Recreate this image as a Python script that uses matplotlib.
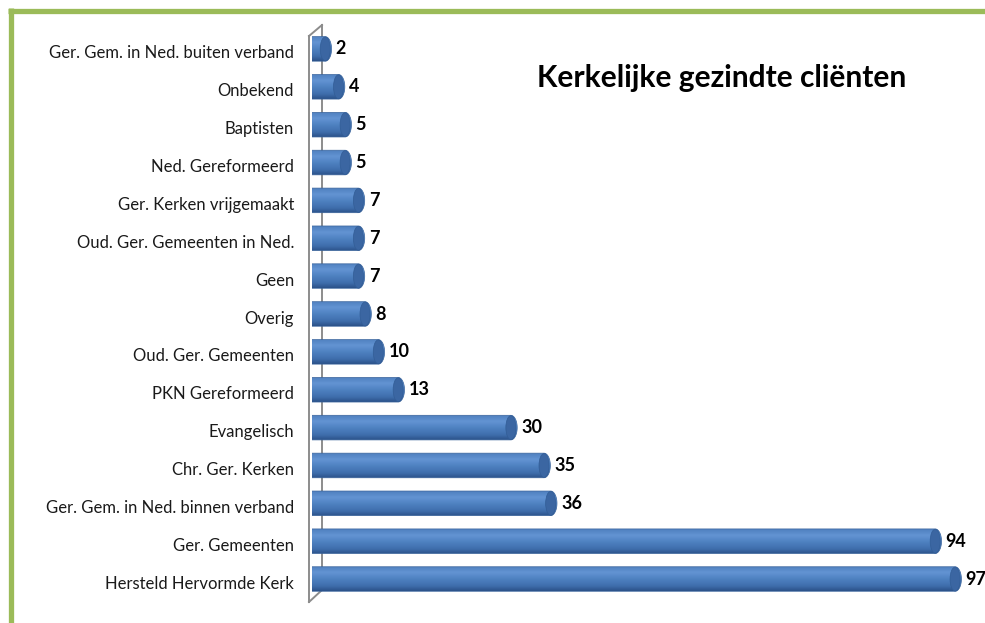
import matplotlib
matplotlib.use("Agg")
import matplotlib.pyplot as plt
import numpy as np
from matplotlib.path import Path
from matplotlib.patches import PathPatch, Ellipse
from matplotlib.lines import Line2D
from matplotlib.colors import LinearSegmentedColormap

categories = ["Hersteld Hervormde Kerk", "Ger. Gemeenten", "Ger. Gem. in Ned. binnen verband",
              "Chr. Ger. Kerken", "Evangelisch", "PKN Gereformeerd", "Oud. Ger. Gemeenten",
              "Overig", "Geen", "Oud. Ger. Gemeenten in Ned.", "Ger. Kerken vrijgemaakt",
              "Ned. Gereformeerd", "Baptisten", "Onbekend", "Ger. Gem. in Ned. buiten verband"]
values = [97, 94, 36, 35, 30, 13, 10, 8, 7, 7, 7, 5, 5, 4, 2]
title = "Kerkelijke gezindte cliënten"

W, H = 985, 623
fig = plt.figure(figsize=(W/100, H/100), dpi=100)
fig.patch.set_facecolor("white")

ax = fig.add_axes([312/W, (H-598)/H, (975-312)/W, (598-30)/H])
ax.set_xlim(0, 100)
ax.set_ylim(-0.5, 14.5)
ax.axis("off")

cmap = LinearSegmentedColormap.from_list("cyl", [
    (0.0, "#4f80bf"), (0.25, "#6394d3"), (0.5, "#4f82c2"), (0.8, "#3f6eac"), (1.0, "#2b5289")])
grad = np.linspace(0, 1, 64).reshape(-1, 1)

h = 0.65
rx = 0.95
ys = np.arange(len(values))

def cyl_path(v, y):
    t1 = np.linspace(np.pi/2, 3*np.pi/2, 30)
    left = np.column_stack([rx*np.cos(t1)*0.7, y + (h/2)*np.sin(t1)])
    t2 = np.linspace(-np.pi/2, np.pi/2, 30)
    right = np.column_stack([v + rx*np.cos(t2), y + (h/2)*np.sin(t2)])
    verts = np.vstack([left, right, left[:1]])
    codes = [Path.MOVETO] + [Path.LINETO]*(len(verts)-2) + [Path.CLOSEPOLY]
    return Path(verts, codes)

def px2data(px, py):
    x = (px - 312) / (975 - 312) * 100
    y = -0.5 + (598 - py) / (598 - 30) * 15
    return x, y

wall_color = "#8c8c8c"
segs = [((322, 25), (322, 590)), ((309, 36), (309, 602)),
        ((309, 36), (322, 25)), ((309, 602), (322, 590))]
for (a, b) in segs:
    xa, ya = px2data(*a)
    xb, yb = px2data(*b)
    ax.add_line(Line2D([xa, xb], [ya, yb], color=wall_color, lw=1.4, clip_on=False, zorder=1))

for v, y in zip(values, ys):
    p = cyl_path(v, y)
    patch = PathPatch(p, facecolor="none", edgecolor="#3a649c", lw=0.5, zorder=3)
    ax.add_patch(patch)
    im = ax.imshow(grad, cmap=cmap, aspect="auto", extent=(-rx, v + rx, y - h/2, y + h/2),
                   origin="upper", zorder=2, interpolation="bilinear")
    im.set_clip_path(patch)
    cap = Ellipse((v, y), 1.6*rx, h*0.97, facecolor="#3b66a2", edgecolor="#325d96",
                  lw=0.5, zorder=4)
    ax.add_patch(cap)
    ax.annotate(str(v), (v + rx, y), xytext=(3, 0), textcoords="offset points",
                ha="left", va="center", fontsize=13, fontweight="bold",
                family="Lato", color="black", zorder=5)

label_x = (294 - 312) / (975 - 312) * 100
for c, y in zip(categories, ys):
    ax.text(label_x, y - 0.12, c, ha="right", va="center", fontsize=12,
            family="Lato", color="#1a1a1a", clip_on=False)

fig.text(537/W, 1 - 78/H, title, ha="left", va="center", fontsize=21.5,
         fontweight="bold", family="Lato", color="black")

green = "#9bbb59"
fig.add_artist(Line2D([10.5/W, 10.5/W], [0, 1 - 8/H], color=green, lw=3.8,
                      transform=fig.transFigure, solid_capstyle="butt"))
fig.add_artist(Line2D([8/W, 1], [1 - 10.5/H, 1 - 10.5/H], color=green, lw=3.8,
                      transform=fig.transFigure, solid_capstyle="butt"))

fig.savefig("out.png", dpi=100)
